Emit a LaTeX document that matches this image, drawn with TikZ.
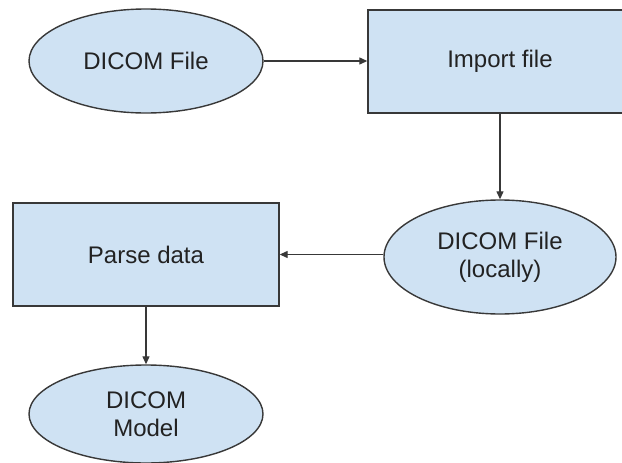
\documentclass[tikz,border=0pt]{standalone}
\usepackage{fontspec}
\setmainfont{Liberation Sans}
\usetikzlibrary{shapes.geometric,arrows.meta}
\definecolor{boxfill}{HTML}{CFE2F3}
\definecolor{boxline}{HTML}{383838}
\definecolor{txt}{HTML}{222222}
\begin{document}
\begin{tikzpicture}[x=1pt,y=-1pt,
  every node/.style={text=txt,font=\fontsize{24}{28}\selectfont,align=center,inner sep=0pt},
  oval/.style={ellipse,draw=boxline,fill=boxfill,line width=1.4pt},
  boxnode/.style={rectangle,draw=boxline,fill=boxfill,line width=1.4pt},
  conn/.style={draw=boxline,line width=1.3pt,-{Triangle[length=8pt,width=7pt]}}]
\useasboundingbox (0,0) rectangle (622,463);
\clip (0,0) rectangle (622,463);
\fill[white] (0,0) rectangle (622,463);
\node[oval,minimum width=234pt,minimum height=104pt] (e1) at (146,61) {DICOM File};
\node[boxnode,minimum width=264pt,minimum height=103pt] (r1) at (500,61.5) {Import file};
\node[oval,minimum width=232pt,minimum height=114pt] (e2) at (500,257) {DICOM File\\(locally)};
\node[boxnode,minimum width=266pt,minimum height=103pt] (r2) at (146,254.5) {Parse data};
\node[oval,minimum width=234pt,minimum height=98pt] (e3) at (146,414) {DICOM\\Model};
\draw[conn] (e1.east) -- (r1.west |- e1.east);
\draw[conn] (r1.south) -- (e2.north);
\draw[conn] (e2.west |- r2.east) -- (r2.east);
\draw[conn] (r2.south) -- (e3.north);
\end{tikzpicture}
\end{document}
